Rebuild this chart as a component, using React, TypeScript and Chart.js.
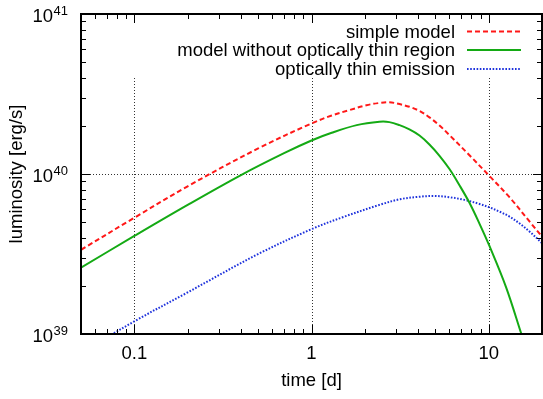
import React, { useEffect, useRef } from "react";
import { Chart, registerables } from "chart.js";

Chart.register(...registerables);

// ---- data (time in days, luminosity in erg/s) ----
const timeSimple = [0.05, 0.1, 0.2, 0.5, 1, 1.3, 1.64, 2.04, 2.42, 2.75, 3.14, 3.57, 4.07, 4.63, 5.28, 6.01, 7.79, 10.1, 13.1, 17, 20];
const lumSimple = [3.36e39, 5.33e39, 8.38e39, 1.445e40, 2.07e40, 2.32e40, 2.51e40, 2.69e40, 2.78e40, 2.81e40, 2.735e40, 2.63e40, 2.48e40, 2.26e40, 2.01e40, 1.75e40, 1.31e40, 9.72e39, 7.16e39, 5.05e39, 4.06e39];

const timeNoThin = [0.05, 0.1, 0.2, 0.4, 0.7, 1, 1.3, 1.8, 2.42, 2.75, 3.14, 3.57, 4.07, 4.63, 5.28, 6.01, 6.84, 7.79, 8.87, 10.1, 12.56, 15.25, 16.5];
const lumNoThin = [2.6e39, 4.1e39, 6.41e39, 9.85e39, 1.35e40, 1.62e40, 1.81e40, 2.02e40, 2.12e40, 2.11e40, 2.02e40, 1.9e40, 1.74e40, 1.53e40, 1.3e40, 1.074e40, 8.51e39, 6.61e39, 4.9e39, 3.55e39, 1.95e39, 1.01e39, 7.7e38];

const timeThin = [0.05, 0.1, 0.2, 0.5, 1, 1.5, 2.42, 3.14, 4.07, 4.9, 6.01, 7.3, 8.87, 10.1, 11.5, 13.1, 14.9, 17, 20];
const lumThin = [7.6e38, 1.2e39, 1.82e39, 3.16e39, 4.52e39, 5.37e39, 6.41e39, 6.95e39, 7.21e39, 7.29e39, 7.16e39, 6.89e39, 6.5e39, 6.19e39, 5.82e39, 5.42e39, 4.92e39, 4.37e39, 3.7e39];

const seriesLabels = ["simple model", "model without optically thin region", "optically thin emission"];
const xTickValues = [0.1, 1, 10];
const yTickExponents = [39, 40, 41];
const yGridValues = [1e40];

const FONT = '"Liberation Sans", Arial, Helvetica, sans-serif';
const RED = "rgb(255,24,24)";
const GREEN = "rgb(20,170,20)";
const BLUE = "rgb(30,50,220)";
const DASHES = [[5, 3], [], [1.6, 1.6]];
const COLORS = [RED, GREEN, BLUE];

const framePlugin = {
  id: "gnuframe",
  beforeDatasetsDraw(chart: any) {
    const { ctx, chartArea: a, scales } = chart;
    const x = scales.x, y = scales.y;
    ctx.save();
    ctx.strokeStyle = "rgba(0,0,0,0.8)";
    ctx.lineWidth = 1;
    ctx.setLineDash([1, 2]);
    for (const v of xTickValues) {
      const px = Math.round(x.getPixelForValue(v)) + 0.5;
      ctx.beginPath();
      ctx.moveTo(px, a.top + 64);
      ctx.lineTo(px, a.bottom);
      ctx.stroke();
    }
    for (const v of yGridValues) {
      const py = Math.round(y.getPixelForValue(v)) + 0.5;
      ctx.beginPath();
      ctx.moveTo(a.left, py);
      ctx.lineTo(a.right, py);
      ctx.stroke();
    }
    ctx.restore();
  },
  afterDatasetsDraw(chart: any) {
    const { ctx, chartArea: a, scales } = chart;
    const x = scales.x, y = scales.y;
    ctx.save();
    ctx.setLineDash([]);
    ctx.strokeStyle = "#000";
    ctx.lineWidth = 1;
    // x ticks (top & bottom)
    for (const d of [0.01, 0.1, 1, 10]) {
      for (let k = 1; k <= 9; k++) {
        const v = k * d;
        if (v < 0.05 - 1e-9 || v > 20 + 1e-9) continue;
        const len = k === 1 ? 9 : 5;
        const px = Math.round(x.getPixelForValue(v)) + 0.5;
        ctx.beginPath();
        ctx.moveTo(px, a.bottom);
        ctx.lineTo(px, a.bottom - len);
        ctx.moveTo(px, a.top);
        ctx.lineTo(px, a.top + len);
        ctx.stroke();
      }
    }
    // y ticks (left & right)
    for (const d of [1e39, 1e40, 1e41]) {
      for (let k = 1; k <= 9; k++) {
        const v = k * d;
        if (v > 1e41 * 1.0001) continue;
        const len = k === 1 ? 9 : 5;
        const py = Math.round(y.getPixelForValue(v)) + 0.5;
        ctx.beginPath();
        ctx.moveTo(a.left, py);
        ctx.lineTo(a.left + len, py);
        ctx.moveTo(a.right, py);
        ctx.lineTo(a.right - len, py);
        ctx.stroke();
      }
    }
    // border
    ctx.lineWidth = 2;
    ctx.strokeRect(a.left, a.top, a.right - a.left, a.bottom - a.top);

    // y tick labels with superscripts
    ctx.fillStyle = "#000";
    ctx.textBaseline = "alphabetic";
    ctx.textAlign = "left";
    const rightEdge = a.left - 13;
    for (const e of yTickExponents) {
      const py = y.getPixelForValue(Math.pow(10, e));
      ctx.font = `13px ${FONT}`;
      const sup = String(e);
      const supW = ctx.measureText(sup).width;
      ctx.fillText(sup, rightEdge - supW, py + 1);
      ctx.font = `18.5px ${FONT}`;
      const baseW = ctx.measureText("10").width;
      ctx.fillText("10", rightEdge - supW - baseW - 0.5, py + 8);
    }

    // legend
    const textRight = a.right - 87;
    const sampleL = a.right - 75;
    const sampleR = a.right - 21;
    const rows = [a.top + 17.5, a.top + 36, a.top + 55];
    ctx.font = `18.5px ${FONT}`;
    ctx.textAlign = "right";
    seriesLabels.forEach((lab, i) => {
      const ly = rows[i];
      ctx.fillStyle = "#000";
      ctx.fillText(lab, textRight, ly + 6.3);
      ctx.strokeStyle = COLORS[i];
      ctx.lineWidth = 2;
      ctx.setLineDash(DASHES[i]);
      ctx.beginPath();
      ctx.moveTo(sampleL, ly);
      ctx.lineTo(sampleR, ly);
      ctx.stroke();
    });
    ctx.restore();
  },
};

function toPoints(t: number[], l: number[]) {
  return t.map((v, i) => ({ x: v, y: l[i] }));
}

export default function App() {
  const ref = useRef<HTMLCanvasElement>(null);
  useEffect(() => {
    document.body.style.margin = "0";
    const canvas = ref.current!;
    const common = {
      pointRadius: 0,
      borderWidth: 2,
      fill: false,
      tension: 0.35,
    };
    const chart = new Chart(canvas, {
      type: "line",
      data: {
        datasets: [
          { ...common, label: seriesLabels[0], data: toPoints(timeSimple, lumSimple), borderColor: RED, borderDash: DASHES[0] },
          { ...common, label: seriesLabels[1], data: toPoints(timeNoThin, lumNoThin), borderColor: GREEN, borderDash: DASHES[1] },
          { ...common, label: seriesLabels[2], data: toPoints(timeThin, lumThin), borderColor: BLUE, borderDash: DASHES[2] },
        ],
      },
      options: {
        responsive: false,
        animation: false,
        devicePixelRatio: 1,
        layout: { padding: { top: 14, right: 1, left: 0, bottom: 0 } },
        plugins: { legend: { display: false }, tooltip: { enabled: false } },
        scales: {
          x: {
            type: "logarithmic",
            min: 0.05,
            max: 20,
            grid: { display: false, drawTicks: false },
            border: { display: false },
            afterBuildTicks: (s: any) => {
              s.ticks = xTickValues.map((v) => ({ value: v }));
            },
            afterFit: (s: any) => {
              s.height = 65;
            },
            ticks: {
              autoSkip: false,
              maxRotation: 0,
              padding: 9,
              color: "#000",
              font: { family: FONT, size: 18.5 },
              callback: (v: any) => String(v),
            },
            title: {
              display: true,
              text: "time [d]",
              color: "#000",
              font: { family: FONT, size: 18.5 },
              padding: { top: 0, bottom: 7 },
            },
          },
          y: {
            type: "logarithmic",
            min: 1e39,
            max: 1e41,
            grid: { display: false, drawTicks: false },
            border: { display: false },
            ticks: { display: false },
            afterFit: (s: any) => {
              s.width = 81;
            },
            title: {
              display: true,
              text: "luminosity [erg/s]",
              color: "#000",
              font: { family: FONT, size: 18.5 },
              padding: { top: 6, bottom: 0 },
            },
          },
        },
      } as any,
      plugins: [framePlugin],
    });
    return () => chart.destroy();
  }, []);
  return (
    <div style={{ width: 543, height: 399 }}>
      <canvas ref={ref} width={543} height={399} style={{ display: "block" }} />
    </div>
  );
}
